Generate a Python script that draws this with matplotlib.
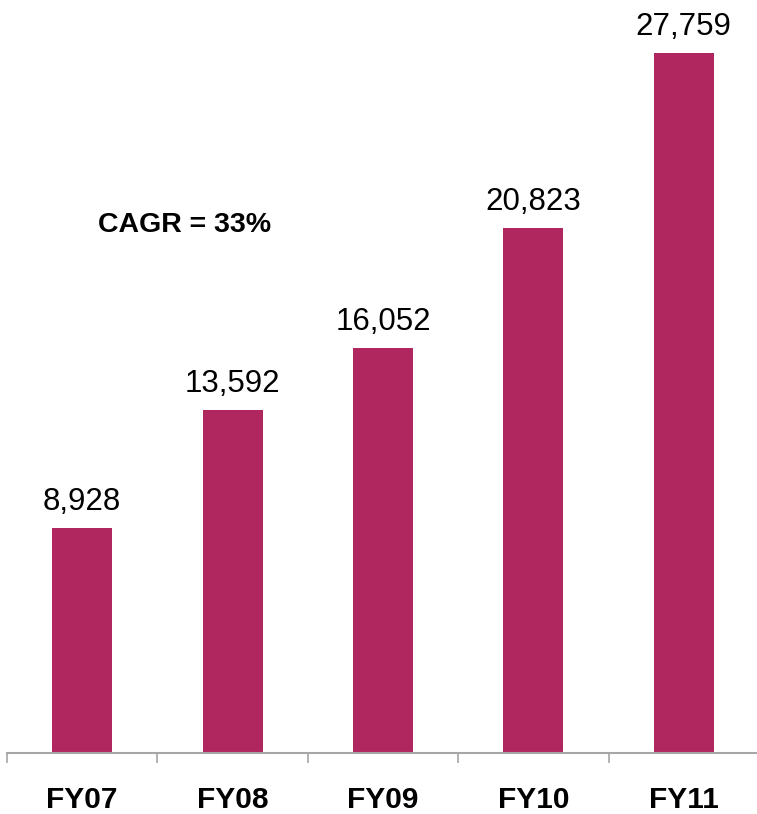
import numpy as np
import matplotlib.pyplot as plt

plt.rcParams['font.family'] = ['Liberation Sans', 'DejaVu Sans']

years = ['FY07', 'FY08', 'FY09', 'FY10', 'FY11']
values = [8928, 13592, 16052, 20823, 27759]
cagr_text = 'CAGR = 33%'

bar_col = '#AF275E'

fig = plt.figure(figsize=(7.57, 8.14), dpi=100)
ax = fig.add_axes([7/757, 61/814, 752/757, 753/814])

x = np.arange(len(years))
ax.bar(x, values, width=0.4, color=bar_col, zorder=2)

# Wertebeschriftung ueber den Balken
for xi, v in zip(x, values):
    ax.annotate('{:,}'.format(v), (xi, v), xytext=(0, 13), textcoords='offset points',
                ha='center', va='baseline', fontsize=22.5, color='black')

ax.text(0.68, 20950, cagr_text, ha='center', va='center', fontsize=20.5,
        fontweight='bold', color='black')

ax.set_xlim(-0.5, 4.5)
ax.set_ylim(0, 27759 * 753 / 700)

for s in ['top', 'right', 'left']:
    ax.spines[s].set_visible(False)
ax.spines['bottom'].set_color('#A6A6A6')
ax.spines['bottom'].set_linewidth(1.5)

ax.set_yticks([])
ax.set_xticks(x)
ax.set_xticklabels(years, fontsize=21.5, fontweight='bold')
ax.tick_params(axis='x', which='major', length=0, pad=24)
ax.set_xticks(np.arange(-0.5, 4.6, 1), minor=True)
ax.tick_params(axis='x', which='minor', length=7.5, width=1.2, color='#A6A6A6', direction='out')

plt.savefig('out.png', dpi=100)
